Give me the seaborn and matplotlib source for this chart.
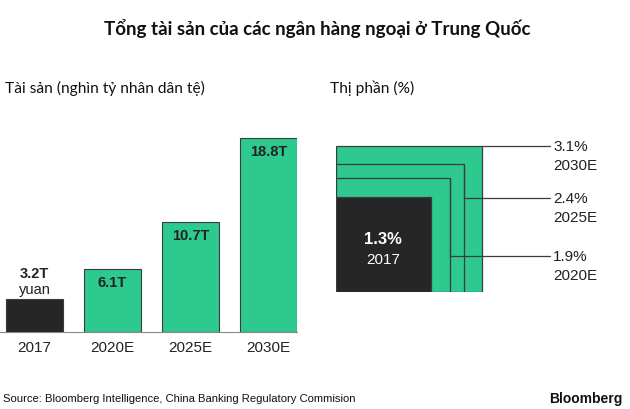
import numpy as np
import pandas as pd
import matplotlib
matplotlib.use("Agg")
import matplotlib.pyplot as plt
from matplotlib.patches import Rectangle
import seaborn as sns

# ---- data ----
years = ["2017", "2020E", "2025E", "2030E"]
assets = [3.2, 6.1, 10.7, 18.8]
asset_labels = ["3.2T", "6.1T", "10.7T", "18.8T"]
shares = [1.3, 1.9, 2.4, 3.1]
share_labels = ["1.3%", "1.9%", "2.4%", "3.1%"]

title = "Tổng tài sản của các ngân hàng ngoại ở Trung Quốc"
sub_left = "Tài sản (nghìn tỷ nhân dân tệ)"
sub_right = "Thị phần (%)"
source = "Source: Bloomberg Intelligence, China Banking Regulatory Commision"

GREEN = "#2dc98f"
BLACK = "#262626"
EDGE = "#3c3c3c"

sns.set_theme(style="white")
plt.rcParams["font.family"] = ["Liberation Sans", "DejaVu Sans"]

W, H = 630, 410
fig = plt.figure(figsize=(6.3, 4.1), dpi=100)
fig.patch.set_facecolor("white")

def px_axes(x0, y_top, x1, y_bot):
    return fig.add_axes([x0 / W, 1 - y_bot / H, (x1 - x0) / W, (y_bot - y_top) / H])

# ---- bar chart ----
ax1 = px_axes(0, 120, 297, 333)
df = pd.DataFrame({"year": years, "assets": assets})
colors = [BLACK, GREEN, GREEN, GREEN]
sns.barplot(data=df, x="year", y="assets", hue="year", palette=colors,
            legend=False, width=0.72, edgecolor=EDGE, linewidth=0.8,
            saturation=1, ax=ax1)
ax1.set_xlim(-0.442, 3.365)
ax1.set_ylim(0, 20.66)
ax1.set_facecolor("none")
for s in ["top", "right", "left"]:
    ax1.spines[s].set_visible(False)
ax1.spines["bottom"].set_color("#888888")
ax1.spines["bottom"].set_linewidth(0.8)
ax1.set_yticks([])
ax1.set_xlabel("")
ax1.set_ylabel("")
ax1.tick_params(axis="x", length=0, pad=6, labelsize=11, labelcolor="#222222")

for i, (v, lab) in enumerate(zip(assets, asset_labels)):
    if i == 0:
        ax1.annotate(lab, (i, v), xytext=(0, 19), textcoords="offset points",
                     ha="center", va="center", fontsize=10.5, fontweight="bold",
                     color="#222222")
        ax1.annotate("yuan", (i, v), xytext=(0, 7.5), textcoords="offset points",
                     ha="center", va="center", fontsize=10.5, color="#222222")
    else:
        ax1.annotate(lab, (i, v), xytext=(0, -9.5), textcoords="offset points",
                     ha="center", va="center", fontsize=10.5, fontweight="bold",
                     color="#222222")

# ---- nested squares ----
k = 82.9  # px per sqrt-share unit
ax2 = px_axes(336, 133, 630, 293)
ax2.set_xlim(0, 294 / k)
ax2.set_ylim(0, 160 / k)
ax2.axis("off")
sides = np.sqrt(shares)
fills = [BLACK, GREEN, GREEN, GREEN]
for i in range(len(shares) - 1, -1, -1):
    ax2.add_patch(Rectangle((0, 0), sides[i], sides[i], facecolor=fills[i],
                            edgecolor=EDGE, linewidth=0.9, zorder=2 + (3 - i)))

x_end = (550 - 336) / k
x_txt = (553 - 336) / k
label_y = {3: sides[3], 2: (293 - 199) / k, 1: (293 - 257) / k}
for i in [3, 2, 1]:
    s = sides[i]
    yy = label_y[i]
    if i != 3:
        ax2.plot([s, s], [s, yy], color=EDGE, lw=0.9, zorder=10)
    ax2.plot([s, x_end], [yy, yy], color=EDGE, lw=0.9, zorder=10,
             clip_on=False)
    ax2.text(x_txt, yy, share_labels[i], ha="left", va="center",
             fontsize=11, color="#222222", clip_on=False)
    ax2.annotate(years[i], (x_txt, yy), xytext=(0, -14), textcoords="offset points",
                 ha="left", va="center", fontsize=11, color="#222222")

c = sides[0] / 2
ax2.annotate(share_labels[0], (c, c), xytext=(0, 4.5), textcoords="offset points",
             ha="center", va="center", fontsize=12, fontweight="bold",
             color="white", zorder=20)
ax2.annotate(years[0], (c, c), xytext=(0, -10), textcoords="offset points",
             ha="center", va="center", fontsize=11, color="white", zorder=20)

# ---- titles and source ----
fig.text(317 / W, 1 - 28 / H, title, ha="center", va="center", fontsize=13.5,
         fontweight="bold", family=["Lato", "Open Sans", "DejaVu Sans"],
         color="#111111")
fig.text(5 / W, 1 - 88 / H, sub_left, ha="left", va="center", fontsize=11.2,
         family=["Lato", "Open Sans", "DejaVu Sans"], color="#111111")
fig.text(330 / W, 1 - 88 / H, sub_right, ha="left", va="center", fontsize=11.2,
         family=["Lato", "Open Sans", "DejaVu Sans"], color="#111111")
fig.text(3 / W, 1 - 399 / H, source, ha="left", va="center", fontsize=8.1,
         color="#111111")
fig.text(622 / W, 1 - 399 / H, "Bloomberg", ha="right", va="center",
         fontsize=10, fontweight="bold", color="#111111")

fig.savefig("out.png", dpi=100, facecolor="white")
